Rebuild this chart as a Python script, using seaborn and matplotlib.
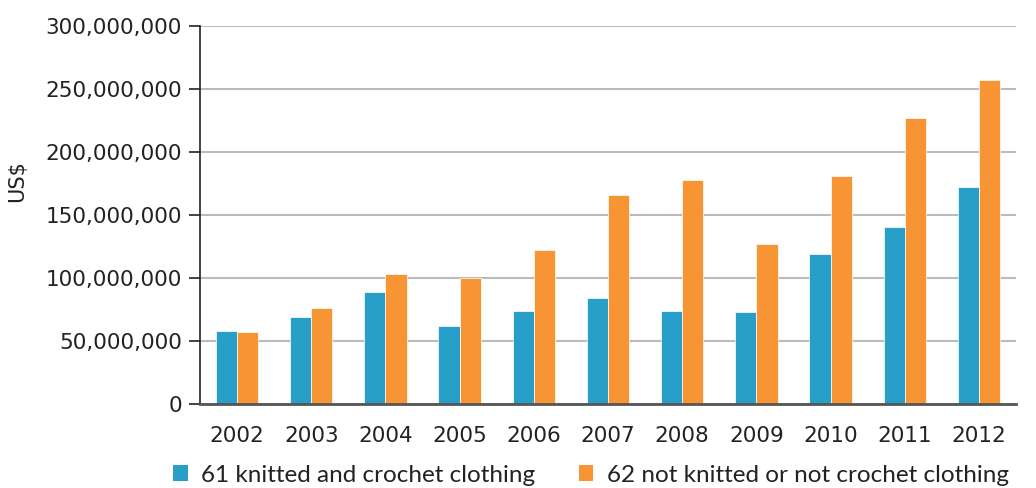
import matplotlib
matplotlib.use("Agg")
import matplotlib.pyplot as plt
import matplotlib.ticker as mticker
from matplotlib.patches import Patch
import seaborn as sns
import pandas as pd

years = ["2002", "2003", "2004", "2005", "2006", "2007", "2008", "2009", "2010", "2011", "2012"]
knitted = [58.0e6, 68.8e6, 88.6e6, 62.2e6, 73.8e6, 84.2e6, 74.0e6, 73.2e6, 119.0e6, 140.7e6, 172.0e6]
not_knitted = [57.5e6, 75.9e6, 102.9e6, 100.2e6, 122.0e6, 166.0e6, 178.0e6, 127.0e6, 181.0e6, 226.7e6, 257.0e6]
series_names = ["61 knitted and crochet clothing", "62 not knitted or not crochet clothing"]
colors = ["#279FC8", "#F79433"]

df = pd.DataFrame({
    "year": years * 2,
    "value": knitted + not_knitted,
    "series": [series_names[0]] * len(years) + [series_names[1]] * len(years),
})

sns.set_theme(style="white")
plt.rcParams["font.family"] = ["DejaVu Sans"]

fig = plt.figure(figsize=(10.36, 4.88), dpi=100)
ax = fig.add_axes([200 / 1036, 1 - 404 / 488, (1016 - 200) / 1036, (404 - 26) / 488])

sns.barplot(data=df, x="year", y="value", hue="series", palette=colors,
            width=0.57, ax=ax, legend=False, saturation=1,
            edgecolor="#FFFFFF", linewidth=0.5)

ax.set_ylim(0, 300e6)
ax.set_xlim(-0.5, 10.5)
ax.set_yticks([0, 50e6, 100e6, 150e6, 200e6, 250e6, 300e6])
ax.yaxis.set_major_formatter(mticker.FuncFormatter(lambda v, p: f"{int(v):,}"))
ax.grid(axis="y", color="#BBBBBB", linewidth=1.5)
ax.set_axisbelow(True)
for s in ["top", "right"]:
    ax.spines[s].set_visible(False)
ax.spines["left"].set_color("#222222")
ax.spines["left"].set_linewidth(1.2)
ax.spines["bottom"].set_color("#555555")
ax.spines["bottom"].set_linewidth(2)
ax.spines["bottom"].set_zorder(5)
ax.tick_params(axis="y", which="major", left=True, length=8, width=1.2, color="#222222",
               labelsize=15.5, labelcolor="#222222", pad=5)
ax.tick_params(axis="x", bottom=False, labelsize=15.5, labelcolor="#222222", pad=10)
ax.set_xlabel("")
ax.set_ylabel("US$", fontsize=15, color="#222222")
ax.yaxis.set_label_coords(-0.212, 0.59)

handles = [Patch(facecolor=c, edgecolor="none") for c in colors]
fig.legend(handles, series_names, loc="center left", bbox_to_anchor=(173 / 1036, 1 - 475 / 488),
           ncol=2, frameon=False, prop={"family": "Lato", "size": 17.5},
           handlelength=0.6, handleheight=0.6,
           handletextpad=0.55, columnspacing=1.8, borderpad=0, borderaxespad=0,
           labelcolor="#222222")

fig.savefig("out.png", dpi=100)
